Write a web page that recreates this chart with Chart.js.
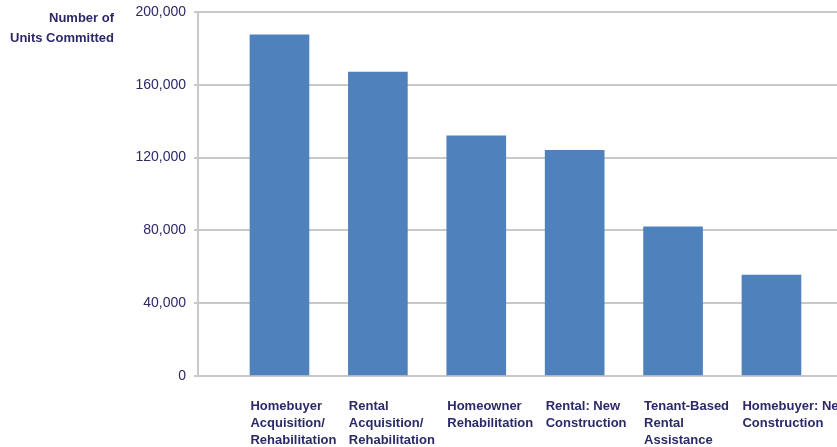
<!DOCTYPE html>
<html>
<head>
<meta charset="utf-8">
<script src="https://cdn.jsdelivr.net/npm/chart.js@4"></script>
<style>
  body { margin: 0; background: #fff; overflow: hidden; }
  #wrap { position: relative; width: 837px; height: 447px; }
  #ytitle {
    position: absolute; left: 0; top: 8px; width: 114px;
    text-align: right; font: bold 13px "Liberation Sans", Arial, sans-serif;
    line-height: 20px; color: #2b2967;
  }
</style>
</head>
<body>
<div id="wrap">
  <canvas id="myChart" width="837" height="447"></canvas>
  <div id="ytitle">Number of<br>Units Committed</div>
</div>
<script>
// categories (split into the lines shown under each bar)
const categories = [
  ['Homebuyer', 'Acquisition/', 'Rehabilitation'],
  ['Rental', 'Acquisition/', 'Rehabilitation'],
  ['Homeowner', 'Rehabilitation'],
  ['Rental: New', 'Construction'],
  ['Tenant-Based', 'Rental', 'Assistance'],
  ['Homebuyer: New', 'Construction']
];
const unitsCommitted = [187500, 167000, 132000, 124000, 82000, 55500];
const yTicks = [0, 40000, 80000, 120000, 160000, 200000];

const navy = '#2b2967';
const gridGray = '#c8c8c8';

const points = [];
for (let i = 0; i < unitsCommitted.length; i++) {
  points.push({ x: i, y: unitsCommitted[i] });
}

const ctx = document.getElementById('myChart');
new Chart(ctx, {
  type: 'bar',
  data: {
    datasets: [{
      label: 'Number of Units Committed',
      data: points,
      backgroundColor: '#4f81bd',
      borderWidth: 0,
      barThickness: 59
    }]
  },
  options: {
    responsive: false,
    animation: false,
    devicePixelRatio: 1,
    layout: { padding: { top: 12, right: 0, bottom: 0, left: 0 } },
    plugins: {
      legend: { display: false },
      tooltip: { enabled: false }
    },
    scales: {
      x: {
        type: 'linear',
        offset: false,
        min: -0.828,
        max: 5.666,
        grid: { display: false, drawTicks: false, offset: false },
        border: { display: false },
        ticks: {
          stepSize: 1,
          includeBounds: false,
          autoSkip: false,
          maxRotation: 0,
          align: 'start',
          labelOffset: -29,
          padding: 22,
          color: navy,
          font: { family: '"Liberation Sans", Arial, sans-serif', size: 13, weight: 'bold', lineHeight: 1.3 },
          callback: function (v) {
            return Number.isInteger(v) && categories[v] ? categories[v] : '';
          }
        },
        afterFit: function (s) {
          s.height = 71;
          s.paddingLeft = 0;
          s.paddingRight = 0;
        }
      },
      y: {
        min: yTicks[0],
        max: yTicks[yTicks.length - 1],
        grid: { color: gridGray, lineWidth: 2, tickLength: 4 },
        border: { display: true, color: gridGray, width: 2 },
        ticks: {
          stepSize: yTicks[1] - yTicks[0],
          padding: 8,
          color: navy,
          font: { family: '"Liberation Sans", Arial, sans-serif', size: 14 },
          callback: function (v) { return v.toLocaleString('en-US'); }
        },
        afterFit: function (s) {
          s.width = 198;
          s.paddingTop = 0;
          s.paddingBottom = 0;
        }
      }
    }
  }
});
</script>
</body>
</html>
